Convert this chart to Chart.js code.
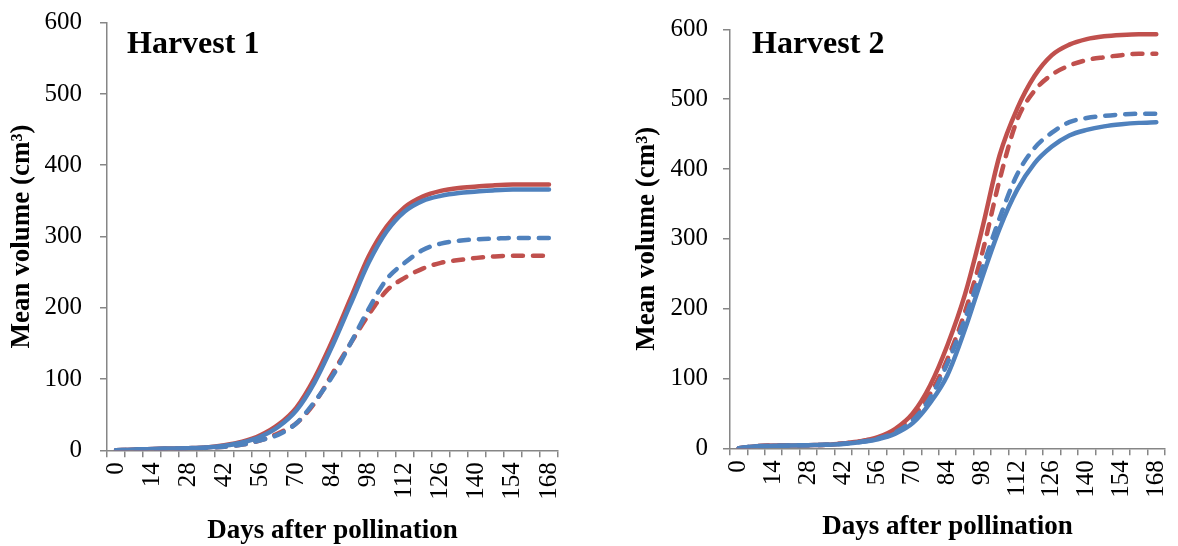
<!DOCTYPE html>
<html><head><meta charset="utf-8">
<script src="https://cdn.jsdelivr.net/npm/chart.js@4.4.1/dist/chart.umd.min.js"></script>
<style>
html,body{margin:0;padding:0;background:#fff;width:1178px;height:546px;overflow:hidden}
.box{position:absolute;top:0;height:546px}
#b1{left:0;width:590px}
#b2{left:590px;width:588px}
canvas{display:block}
</style></head><body>
<div class="box" id="b1"><canvas id="c1" width="590" height="546"></canvas></div>
<div class="box" id="b2"><canvas id="c2" width="588" height="546"></canvas></div>
<script>
// Days after pollination (categories) and which ones carry a label
const days = [0,7,14,21,28,35,42,49,56,63,70,77,84,91,98,105,112,119,126,133,140,147,154,161,168];
const labeledDays = [0,14,28,42,56,70,84,98,112,126,140,154,168];
const yTickValues = [0,100,200,300,400,500,600];

// Harvest 1
const h1BlueSolid  = [0,1,2,2.5,3,4,6.5,11,19,33,56,95,147,205,263,307,335,350,357,361,363,365,366,366,366];
const h1BlueDashed = [0,1,1.5,2,2.5,3.5,5,8,14,22,38,68,104,150,198,240,263,281,290,294,296,297,298,298,298];
const h1RedSolid   = [0,1,2,2.5,3,4,7,12,21,36,60,101,154,213,272,314,341,356,364,368,370,372,373,373,373];
const h1RedDashed  = [0,1,1.5,2,2.5,3.5,5,8,14,24,38,66,108,150,190,224,242,255,263,267,270,272,273,273,273];

// Harvest 2
const h2BlueSolid  = [0,3,3.5,4,4.5,5,6,9,13,21,36,65,105,170,245,315,370,408,432,448,456,461,464,466,467];
const h2BlueDashed = [0,3,3.5,4,4.5,5,6.5,9,14,23,40,72,122,185,258,330,392,430,452,467,473,476,478,479,479];
const h2RedSolid   = [0,3,4,4,4.5,5,7,10,16,28,50,90,148,220,315,420,486,533,563,578,586,590,592,593,593];
const h2RedDashed  = [0,3,4,4,4.5,5,7,10,15,26,45,78,128,195,280,385,470,512,535,548,556,560,563,565,565];

const BLUE = '#4F81BD', RED = '#C0504D', AXIS = '#868686';
const FONT = '"Liberation Serif", "Times New Roman", serif';

const panelTitle = {
  id: 'panelTitle',
  afterDraw(chart, args, opts) {
    const ctx = chart.ctx;
    ctx.save();
    ctx.font = 'bold 32px ' + FONT;
    ctx.fillStyle = '#000';
    ctx.textBaseline = 'alphabetic';
    ctx.textAlign = 'left';
    ctx.fillText(opts.text, opts.x, opts.y);
    ctx.restore();
  }
};

function ds(data, color, dashed) {
  return {
    data: data,
    borderColor: color,
    backgroundColor: color,
    borderWidth: 4.5,
    borderDash: dashed ? [10, 10] : [],
    borderCapStyle: 'round',
    borderJoinStyle: 'round',
    pointRadius: 0,
    fill: false,
    cubicInterpolationMode: 'monotone'
  };
}

function makeChart(id, title, series, g) {
  new Chart(document.getElementById(id), {
    type: 'line',
    data: {
      labels: days,
      datasets: [
        ds(series[0], BLUE, false),
        ds(series[1], BLUE, true),
        ds(series[2], RED, false),
        ds(series[3], RED, true)
      ]
    },
    options: {
      responsive: false,
      animation: false,
      devicePixelRatio: 1,
      layout: { padding: { top: g.top, right: g.right, bottom: 0, left: 0 } },
      plugins: {
        legend: { display: false },
        tooltip: { enabled: false },
        panelTitle: { text: title, x: g.tx, y: g.ty }
      },
      scales: {
        x: {
          type: 'category',
          offset: true,
          grid: { offset: true, drawOnChartArea: false, drawTicks: true, tickLength: 7, color: AXIS, lineWidth: 1.5 },
          border: { display: true, color: AXIS, width: 1.5 },
          ticks: {
            autoSkip: false, minRotation: 90, maxRotation: 90, padding: 5,
            color: '#000', font: { family: FONT, size: 25 },
            callback: function(v, i) { const d = days[i]; return labeledDays.includes(d) ? String(d) : ''; }
          },
          title: { display: true, text: 'Days after pollination', color: '#000',
                   font: { family: FONT, size: 27, weight: 'bold', lineHeight: 1.1 }, padding: { top: 0, bottom: g.xtp } },
          afterFit: function(s) { s.height = g.xh; s.paddingLeft = 0; s.paddingRight = 0; }
        },
        y: {
          min: 0, max: 600,
          afterBuildTicks: function(s) { s.ticks = yTickValues.map(v => ({ value: v })); },
          grid: { drawOnChartArea: false, drawTicks: true, tickLength: 7, color: AXIS, lineWidth: 1.5 },
          border: { display: true, color: AXIS, width: 1.5 },
          ticks: { padding: g.yp, color: '#000', font: { family: FONT, size: 25 } },
          title: { display: true, text: 'Mean volume (cm³)', color: '#000',
                   font: { family: FONT, size: 27, weight: 'bold', lineHeight: 1.1 }, padding: { top: g.ytp, bottom: 0 } },
          afterFit: function(s) { s.width = g.yw; s.paddingTop = 0; s.paddingBottom = 0; }
        }
      }
    },
    plugins: [panelTitle]
  });
}

makeChart('c1', 'Harvest 1', [h1BlueSolid, h1BlueDashed, h1RedSolid, h1RedDashed],
  { top: 22.7, right: 32, yw: 107, xh: 95.7, yp: 18, ytp: 7, xtp: 0, tx: 127, ty: 53 });
makeChart('c2', 'Harvest 2', [h2BlueSolid, h2BlueDashed, h2RedSolid, h2RedDashed],
  { top: 29.3, right: 13, yw: 140, xh: 97.7, yp: 15, ytp: 42, xtp: 4, tx: 162, ty: 53 });
</script>
</body></html>
